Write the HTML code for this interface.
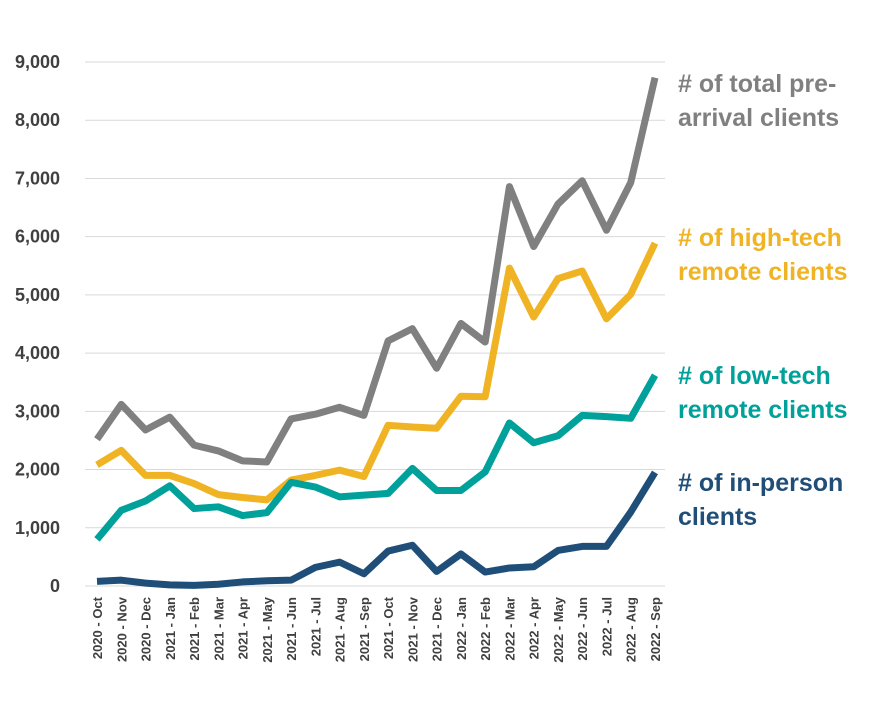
<!DOCTYPE html>
<html><head><meta charset="utf-8"><style>
body{margin:0;background:#fff;}
svg text{font-family:"Liberation Sans",sans-serif;}
</style></head><body>
<svg id="chart" width="871" height="712" xmlns="http://www.w3.org/2000/svg"></svg>
<script>
const categories=["2020 - Oct","2020 - Nov","2020 - Dec","2021 - Jan","2021 - Feb","2021 - Mar","2021 - Apr","2021 - May","2021 - Jun","2021 - Jul","2021 - Aug","2021 - Sep","2021 - Oct","2021 - Nov","2021 - Dec","2022 - Jan","2022 - Feb","2022 - Mar","2022 - Apr","2022 - May","2022 - Jun","2022 - Jul","2022 - Aug","2022 - Sep"];
const totalClients=[2520,3120,2680,2900,2420,2320,2150,2130,2870,2950,3070,2930,4210,4420,3740,4510,4190,6860,5830,6560,6960,6110,6930,8730];
const highTech=[2080,2330,1900,1900,1760,1570,1520,1480,1820,1900,1990,1880,2760,2730,2710,3260,3250,5460,4620,5280,5410,4590,5010,5890];
const lowTech=[800,1300,1460,1720,1330,1360,1210,1260,1780,1700,1530,1560,1590,2020,1640,1640,1960,2800,2460,2580,2930,2910,2880,3620];
const inPerson=[80,100,50,20,10,30,70,90,100,320,410,210,600,700,250,550,240,310,330,610,680,680,1270,1950];
const yTicks=[0,1000,2000,3000,4000,5000,6000,7000,8000,9000];
const yTickLabels=["0","1,000","2,000","3,000","4,000","5,000","6,000","7,000","8,000","9,000"];

const svg=document.getElementById('chart');
const NS='http://www.w3.org/2000/svg';
const x0=97,x1=655,y0=586,yTop=62,yMax=9000;
const xS=i=>x0+i*(x1-x0)/(categories.length-1);
const yS=v=>y0-v/yMax*(y0-yTop);
function mk(t,a){const e=document.createElementNS(NS,t);for(const k in a)e.setAttribute(k,a[k]);svg.appendChild(e);return e;}

yTicks.forEach((v,i)=>{
  const g=mk('line',{x1:85,x2:665,y1:yS(v),y2:yS(v),stroke:'#d9d9d9','stroke-width':1});
  
  
  const t=mk('text',{x:60,y:yS(v)+6,'text-anchor':'end','font-size':18,'font-weight':'bold',fill:'#404040'});
  t.textContent=yTickLabels[i];
  
  
});
categories.forEach((c,i)=>{
  const t=mk('text',{transform:`translate(${xS(i)+5},597) rotate(-90)`,'text-anchor':'end','font-size':13,'font-weight':'bold',fill:'#404040'});
  t.textContent=c;
  
  
});
const series=[
 {d:totalClients,c:'#808080',n:'total-clients-line',l:['# of total pre-','arrival clients'],ly:92},
 {d:highTech,c:'#f0b323',n:'high-tech-line',l:['# of high-tech','remote clients'],ly:246},
 {d:lowTech,c:'#00a19a',n:'low-tech-line',l:['# of low-tech','remote clients'],ly:384},
 {d:inPerson,c:'#1f4e79',n:'in-person-line',l:['# of in-person','clients'],ly:491}
];
series.forEach(s=>{
  const p=mk('polyline',{points:s.d.map((v,i)=>xS(i)+','+yS(v)).join(' '),fill:'none',stroke:s.c,'stroke-width':7,'stroke-linejoin':'round','stroke-linecap':'butt'});
  
  
  s.l.forEach((ln,j)=>{
    const t=mk('text',{x:678,y:s.ly+j*34,'font-size':25,'font-weight':'bold',fill:s.c});
    t.textContent=ln;
    
    
  });
});
</script>
</body></html>
